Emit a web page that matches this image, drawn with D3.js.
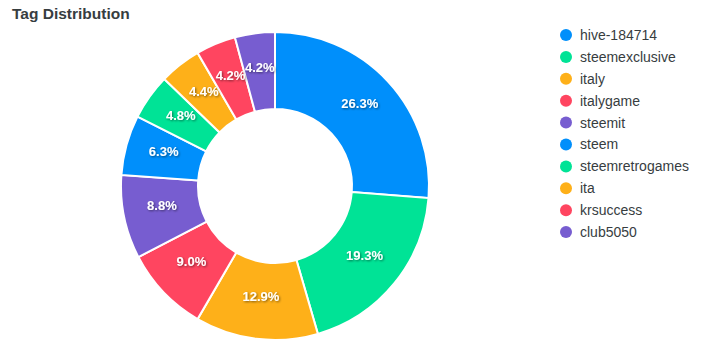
<!DOCTYPE html>
<html>
<head>
<meta charset="utf-8">
<script src="https://cdn.jsdelivr.net/npm/d3@7"></script>
<style>
  body { margin: 0; background: #fff; }
  svg { font-family: Helvetica, Arial, "Liberation Sans", sans-serif; }
</style>
</head>
<body>
<div id="chart"></div>
<script>
// tag shares (percent)
let tags = ["hive-184714", "steemexclusive", "italy", "italygame", "steemit",
            "steem", "steemretrogames", "ita", "krsuccess", "club5050"];
let shares = [26.3, 19.3, 12.9, 9.0, 8.8, 6.3, 4.8, 4.4, 4.2, 4.2];
let palette = ["#008FFB", "#00E396", "#FEB019", "#FF4560", "#775DD0"];

let width = 709, height = 352;
let cx = 275, cy = 186, outerR = 154, innerR = 77;

let svg = d3.select("#chart").append("svg")
  .attr("width", width)
  .attr("height", height);

let defs = svg.append("defs");
let shadow = defs.append("filter").attr("id", "shadow")
  .attr("x", "-20%").attr("y", "-30%").attr("width", "150%").attr("height", "160%");
shadow.append("feDropShadow")
  .attr("dx", 1).attr("dy", 1).attr("stdDeviation", 1)
  .attr("flood-color", "#000").attr("flood-opacity", 0.5);

svg.append("text")
  .attr("x", 12).attr("y", 19)
  .attr("font-size", 15.5).attr("font-weight", "bold")
  .attr("fill", "#373d3f")
  .text("Tag Distribution");

let color = d3.scaleOrdinal().domain(tags).range(palette);

let pie = d3.pie().sort(null).value(d => d.v);
let arc = d3.arc().innerRadius(innerR).outerRadius(outerR);
let labelArc = d3.arc().innerRadius((innerR + outerR) / 2).outerRadius((innerR + outerR) / 2);

let data = tags.map((t, i) => ({ t: t, v: shares[i] }));

let g = svg.append("g").attr("transform", `translate(${cx},${cy})`);

g.selectAll("path.slice").data(pie(data))
  .enter().append("path")
  .attr("class", "slice")
  .attr("d", arc)
  .attr("fill", d => color(d.data.t))
  .attr("stroke", "#fff")
  .attr("stroke-width", 2);

g.selectAll("text.pct").data(pie(data))
  .enter().append("text")
  .attr("class", "pct")
  .attr("transform", d => `translate(${labelArc.centroid(d)})`)
  .attr("text-anchor", "middle")
  .attr("dy", "0.05em")
  .attr("font-size", 13).attr("font-weight", "bold")
  .attr("fill", "#fff")
  .attr("filter", "url(#shadow)")
  .text(d => d.data.v.toFixed(1) + "%");

// legend
let legend = svg.append("g").attr("transform", "translate(566,35)");
let item = legend.selectAll("g.item").data(tags)
  .enter().append("g")
  .attr("class", "item")
  .attr("transform", (d, i) => `translate(0,${i * 21.9})`);

item.append("circle")
  .attr("r", 6)
  .attr("fill", d => color(d));

item.append("text")
  .attr("x", 14).attr("dy", "0.35em")
  .attr("font-size", 14)
  .attr("fill", "#373d3f")
  .text(d => d);
</script>
</body>
</html>
